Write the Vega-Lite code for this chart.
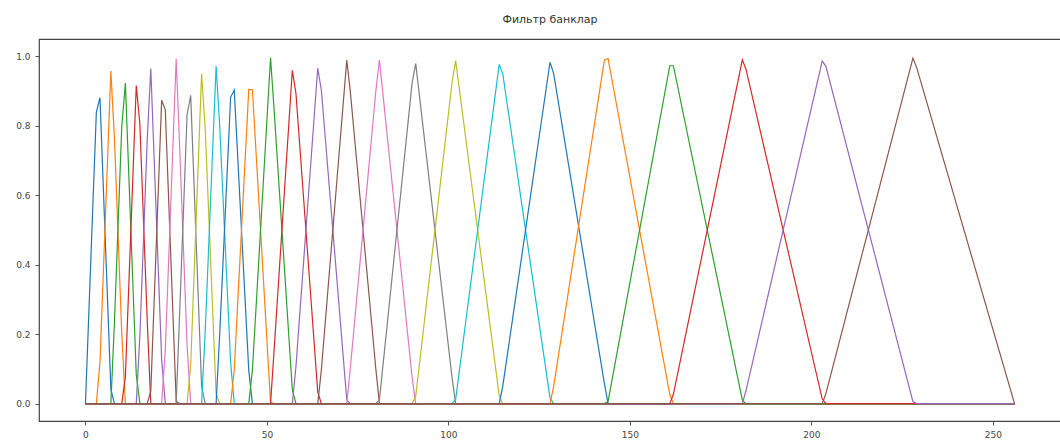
{
  "$schema": "https://vega.github.io/schema/vega-lite/v6.json",
  "width": 1022,
  "height": 382,
  "autosize": {"type": "none"},
  "padding": {"left": 39, "top": 39, "right": 0, "bottom": 24},
  "background": "white",
  "title": {"text": "Фильтр банклар", "fontSize": 11, "font": "DejaVu Sans", "fontWeight": "normal", "color": "#333", "offset": 14},
  "config": {
    "view": {"stroke": "#444", "strokeWidth": 1.2},
    "axis": {"grid": false, "domain": false, "tickColor": "#555", "tickSize": 4, "labelFont": "DejaVu Sans", "labelFontSize": 9, "labelColor": "#444", "titleFontSize": 0, "labelPadding": 5}
  },
  "data": {"values": [
    {"filter":0,"bin":0,"weight":0},{"filter":0,"bin":3,"weight":0.839},{"filter":0,"bin":4,"weight":0.881},{"filter":0,"bin":7,"weight":0.042},{"filter":0,"bin":8,"weight":0},{"filter":0,"bin":256,"weight":0},
    {"filter":1,"bin":0,"weight":0},{"filter":1,"bin":3,"weight":0},{"filter":1,"bin":4,"weight":0.119},{"filter":1,"bin":7,"weight":0.958},{"filter":1,"bin":8,"weight":0.762},{"filter":1,"bin":10,"weight":0.203},{"filter":1,"bin":11,"weight":0},{"filter":1,"bin":256,"weight":0},
    {"filter":2,"bin":0,"weight":0},{"filter":2,"bin":7,"weight":0},{"filter":2,"bin":8,"weight":0.238},{"filter":2,"bin":10,"weight":0.797},{"filter":2,"bin":11,"weight":0.923},{"filter":2,"bin":14,"weight":0.084},{"filter":2,"bin":15,"weight":0},{"filter":2,"bin":256,"weight":0},
    {"filter":3,"bin":0,"weight":0},{"filter":3,"bin":10,"weight":0},{"filter":3,"bin":11,"weight":0.077},{"filter":3,"bin":14,"weight":0.916},{"filter":3,"bin":15,"weight":0.804},{"filter":3,"bin":17,"weight":0.245},{"filter":3,"bin":18,"weight":0},{"filter":3,"bin":256,"weight":0},
    {"filter":4,"bin":0,"weight":0},{"filter":4,"bin":14,"weight":0},{"filter":4,"bin":15,"weight":0.196},{"filter":4,"bin":17,"weight":0.755},{"filter":4,"bin":18,"weight":0.965},{"filter":4,"bin":21,"weight":0.126},{"filter":4,"bin":22,"weight":0},{"filter":4,"bin":256,"weight":0},
    {"filter":5,"bin":0,"weight":0},{"filter":5,"bin":17,"weight":0},{"filter":5,"bin":18,"weight":0.035},{"filter":5,"bin":21,"weight":0.874},{"filter":5,"bin":22,"weight":0.846},{"filter":5,"bin":25,"weight":0.007},{"filter":5,"bin":26,"weight":0},{"filter":5,"bin":256,"weight":0},
    {"filter":6,"bin":0,"weight":0},{"filter":6,"bin":21,"weight":0},{"filter":6,"bin":22,"weight":0.154},{"filter":6,"bin":25,"weight":0.993},{"filter":6,"bin":26,"weight":0.727},{"filter":6,"bin":28,"weight":0.168},{"filter":6,"bin":29,"weight":0},{"filter":6,"bin":256,"weight":0},
    {"filter":7,"bin":0,"weight":0},{"filter":7,"bin":25,"weight":0},{"filter":7,"bin":26,"weight":0.273},{"filter":7,"bin":28,"weight":0.832},{"filter":7,"bin":29,"weight":0.888},{"filter":7,"bin":32,"weight":0.050},{"filter":7,"bin":33,"weight":0},{"filter":7,"bin":256,"weight":0},
    {"filter":8,"bin":0,"weight":0},{"filter":8,"bin":28,"weight":0},{"filter":8,"bin":29,"weight":0.112},{"filter":8,"bin":32,"weight":0.950},{"filter":8,"bin":33,"weight":0.791},{"filter":8,"bin":36,"weight":0.028},{"filter":8,"bin":37,"weight":0},{"filter":8,"bin":256,"weight":0},
    {"filter":9,"bin":0,"weight":0},{"filter":9,"bin":32,"weight":0},{"filter":9,"bin":33,"weight":0.209},{"filter":9,"bin":36,"weight":0.972},{"filter":9,"bin":37,"weight":0.798},{"filter":9,"bin":40,"weight":0.118},{"filter":9,"bin":41,"weight":0},{"filter":9,"bin":256,"weight":0},
    {"filter":10,"bin":0,"weight":0},{"filter":10,"bin":36,"weight":0},{"filter":10,"bin":37,"weight":0.202},{"filter":10,"bin":40,"weight":0.882},{"filter":10,"bin":41,"weight":0.903},{"filter":10,"bin":45,"weight":0.095},{"filter":10,"bin":46,"weight":0},{"filter":10,"bin":256,"weight":0},
    {"filter":11,"bin":0,"weight":0},{"filter":11,"bin":40,"weight":0},{"filter":11,"bin":41,"weight":0.097},{"filter":11,"bin":45,"weight":0.905},{"filter":11,"bin":46,"weight":0.904},{"filter":11,"bin":51,"weight":0.004},{"filter":11,"bin":52,"weight":0},{"filter":11,"bin":256,"weight":0},
    {"filter":12,"bin":0,"weight":0},{"filter":12,"bin":45,"weight":0},{"filter":12,"bin":46,"weight":0.096},{"filter":12,"bin":51,"weight":0.996},{"filter":12,"bin":52,"weight":0.843},{"filter":12,"bin":57,"weight":0.040},{"filter":12,"bin":58,"weight":0},{"filter":12,"bin":256,"weight":0},
    {"filter":13,"bin":0,"weight":0},{"filter":13,"bin":51,"weight":0},{"filter":13,"bin":52,"weight":0.157},{"filter":13,"bin":57,"weight":0.960},{"filter":13,"bin":58,"weight":0.893},{"filter":13,"bin":64,"weight":0.034},{"filter":13,"bin":65,"weight":0},{"filter":13,"bin":256,"weight":0},
    {"filter":14,"bin":0,"weight":0},{"filter":14,"bin":57,"weight":0},{"filter":14,"bin":58,"weight":0.107},{"filter":14,"bin":64,"weight":0.966},{"filter":14,"bin":65,"weight":0.903},{"filter":14,"bin":72,"weight":0.011},{"filter":14,"bin":73,"weight":0},{"filter":14,"bin":256,"weight":0},
    {"filter":15,"bin":0,"weight":0},{"filter":15,"bin":64,"weight":0},{"filter":15,"bin":65,"weight":0.097},{"filter":15,"bin":72,"weight":0.989},{"filter":15,"bin":73,"weight":0.896},{"filter":15,"bin":80,"weight":0.101},{"filter":15,"bin":81,"weight":0},{"filter":15,"bin":256,"weight":0},
    {"filter":16,"bin":0,"weight":0},{"filter":16,"bin":72,"weight":0},{"filter":16,"bin":73,"weight":0.104},{"filter":16,"bin":80,"weight":0.899},{"filter":16,"bin":81,"weight":0.989},{"filter":16,"bin":90,"weight":0.077},{"filter":16,"bin":91,"weight":0},{"filter":16,"bin":256,"weight":0},
    {"filter":17,"bin":0,"weight":0},{"filter":17,"bin":80,"weight":0},{"filter":17,"bin":81,"weight":0.011},{"filter":17,"bin":90,"weight":0.923},{"filter":17,"bin":91,"weight":0.979},{"filter":17,"bin":101,"weight":0.076},{"filter":17,"bin":102,"weight":0},{"filter":17,"bin":256,"weight":0},
    {"filter":18,"bin":0,"weight":0},{"filter":18,"bin":90,"weight":0},{"filter":18,"bin":91,"weight":0.021},{"filter":18,"bin":101,"weight":0.924},{"filter":18,"bin":102,"weight":0.988},{"filter":18,"bin":114,"weight":0.023},{"filter":18,"bin":115,"weight":0},{"filter":18,"bin":256,"weight":0},
    {"filter":19,"bin":0,"weight":0},{"filter":19,"bin":101,"weight":0},{"filter":19,"bin":102,"weight":0.012},{"filter":19,"bin":114,"weight":0.977},{"filter":19,"bin":115,"weight":0.949},{"filter":19,"bin":128,"weight":0.017},{"filter":19,"bin":129,"weight":0},{"filter":19,"bin":256,"weight":0},
    {"filter":20,"bin":0,"weight":0},{"filter":20,"bin":114,"weight":0},{"filter":20,"bin":115,"weight":0.051},{"filter":20,"bin":128,"weight":0.983},{"filter":20,"bin":129,"weight":0.951},{"filter":20,"bin":143,"weight":0.057},{"filter":20,"bin":144,"weight":0},{"filter":20,"bin":256,"weight":0},
    {"filter":21,"bin":0,"weight":0},{"filter":21,"bin":128,"weight":0},{"filter":21,"bin":129,"weight":0.049},{"filter":21,"bin":143,"weight":0.990},{"filter":21,"bin":144,"weight":0.994},{"filter":21,"bin":161,"weight":0.027},{"filter":21,"bin":162,"weight":0},{"filter":21,"bin":256,"weight":0},
    {"filter":22,"bin":0,"weight":0},{"filter":22,"bin":143,"weight":0},{"filter":22,"bin":144,"weight":0.006},{"filter":22,"bin":161,"weight":0.973},{"filter":22,"bin":162,"weight":0.973},{"filter":22,"bin":181,"weight":0.010},{"filter":22,"bin":182,"weight":0},{"filter":22,"bin":256,"weight":0},
    {"filter":23,"bin":0,"weight":0},{"filter":23,"bin":161,"weight":0},{"filter":23,"bin":162,"weight":0.027},{"filter":23,"bin":181,"weight":0.990},{"filter":23,"bin":182,"weight":0.963},{"filter":23,"bin":203,"weight":0.014},{"filter":23,"bin":204,"weight":0},{"filter":23,"bin":256,"weight":0},
    {"filter":24,"bin":0,"weight":0},{"filter":24,"bin":181,"weight":0},{"filter":24,"bin":182,"weight":0.037},{"filter":24,"bin":203,"weight":0.986},{"filter":24,"bin":204,"weight":0.972},{"filter":24,"bin":228,"weight":0.006},{"filter":24,"bin":229,"weight":0},{"filter":24,"bin":256,"weight":0},
    {"filter":25,"bin":0,"weight":0},{"filter":25,"bin":203,"weight":0},{"filter":25,"bin":204,"weight":0.028},{"filter":25,"bin":228,"weight":0.995},{"filter":25,"bin":229,"weight":0.969},{"filter":25,"bin":256,"weight":0}
  ]},
  "mark": {"type": "line", "strokeWidth": 1.2, "clip": true},
  "encoding": {
    "x": {"field": "bin", "type": "quantitative", "scale": {"domain": [-12.8, 268.8], "nice": false, "zero": false}, "axis": {"values": [0, 50, 100, 150, 200, 250], "title": null}},
    "y": {"field": "weight", "type": "quantitative", "scale": {"domain": [-0.05, 1.05], "nice": false, "zero": false}, "axis": {"values": [0, 0.2, 0.4, 0.6, 0.8, 1.0], "format": ".1f", "title": null}},
    "color": {"field": "filter", "type": "nominal", "legend": null, "scale": {"domain": [0,1,2,3,4,5,6,7,8,9,10,11,12,13,14,15,16,17,18,19,20,21,22,23,24,25], "range": ["#1f77b4","#ff7f0e","#2ca02c","#d62728","#9467bd","#8c564b","#e377c2","#7f7f7f","#bcbd22","#17becf","#1f77b4","#ff7f0e","#2ca02c","#d62728","#9467bd","#8c564b","#e377c2","#7f7f7f","#bcbd22","#17becf","#1f77b4","#ff7f0e","#2ca02c","#d62728","#9467bd","#8c564b"]}},
    "order": {"field": "bin", "type": "quantitative"}
  }
}
